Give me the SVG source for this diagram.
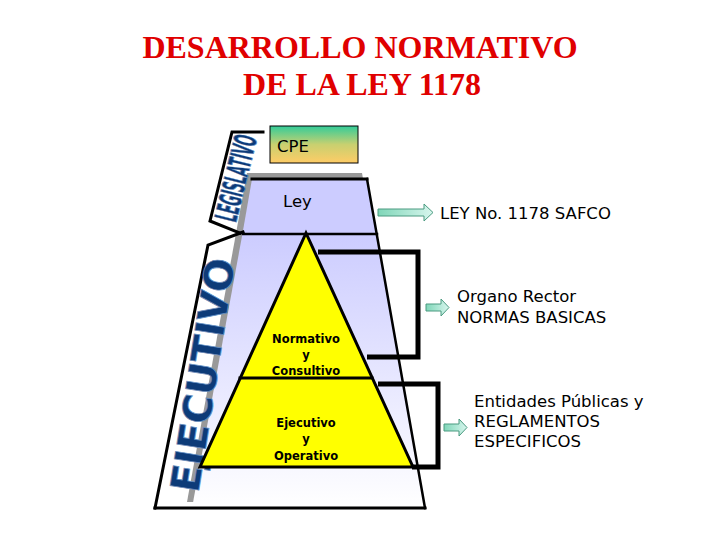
<svg xmlns="http://www.w3.org/2000/svg" width="720" height="540" viewBox="0 0 720 540">
<defs>
<linearGradient id="cpeGrad" x1="0" y1="0" x2="0" y2="1">
<stop offset="0" stop-color="#33cc99"/>
<stop offset="0.5" stop-color="#c8d070"/>
<stop offset="1" stop-color="#ffcc66"/>
</linearGradient>
<linearGradient id="lowGrad" x1="0" y1="0" x2="0" y2="1">
<stop offset="0" stop-color="#ccccff"/>
<stop offset="1" stop-color="#ffffff"/>
</linearGradient>
<linearGradient id="arrGrad" x1="0" y1="0" x2="1" y2="0">
<stop offset="0" stop-color="#7fd6b8"/>
<stop offset="1" stop-color="#d8f6ee"/>
</linearGradient>
<style>
.title{font-family:"Liberation Serif","Times New Roman",serif;font-size:32px;font-weight:bold;fill:#e00000;text-anchor:middle}
.lbl{font-family:"DejaVu Sans",sans-serif;font-size:16.5px;fill:#000}
.pyr{font-family:"DejaVu Sans",sans-serif;font-size:11.5px;font-weight:bold;fill:#000;text-anchor:middle}
.ln{stroke:#000;fill:none;stroke-linecap:square}
.brk{stroke:#000;stroke-width:5;fill:none;stroke-linejoin:miter}
.arr{fill:url(#arrGrad);stroke:#4a9a80;stroke-width:1}
.ban{font-family:"DejaVu Sans",sans-serif;font-weight:bold;fill:#0d3b78;stroke:#6a8fc0;stroke-width:0.8}
</style>
</defs>
<rect width="720" height="540" fill="#fff"/>

<g id="title">
<text class="title" x="360" y="58">DESARROLLO NORMATIVO</text>
<text class="title" x="362" y="95">DE LA LEY 1178</text>
</g>

<g id="frame">
<polygon points="247,173 362,173 420,502 187,502" fill="#999"/>
<polygon points="252,179 367,179 376.5,234 242.4,234" fill="#ccccff"/>
<polygon points="242.4,234 376.5,234 425,508 192,508" fill="url(#lowGrad)"/>
<line class="ln" x1="252" y1="179" x2="367" y2="179" stroke-width="3"/>
<line class="ln" x1="367" y1="179" x2="425" y2="508" stroke-width="2.5"/>
<line class="ln" x1="243" y1="234" x2="377" y2="234" stroke-width="2.5"/>
<line class="ln" x1="155" y1="508" x2="425" y2="508" stroke-width="3"/>
</g>

<g id="legislativo">
<polyline class="ln" points="263,132 232,132 210,221 240,233" stroke-width="3"/>
<text class="ban" transform="translate(236,178) rotate(-76)" x="0" y="11" font-size="31" text-anchor="middle" textLength="88" lengthAdjust="spacingAndGlyphs">LEGISLATIVO</text>
</g>

<g id="ejecutivo">
<polyline class="ln" points="243,232 208,245 155,508" stroke-width="3"/>
<text class="ban" transform="translate(203,375) rotate(-81)" x="0" y="14" font-size="40" text-anchor="middle" textLength="236" lengthAdjust="spacingAndGlyphs">EJECUTIVO</text>
</g>

<g id="cpe">
<rect x="270" y="126" width="88" height="37" fill="url(#cpeGrad)" stroke="#000" stroke-width="1"/>
<text class="lbl" x="277" y="152" font-size="20">CPE</text>
</g>

<g id="ley">
<text class="lbl" x="283" y="207">Ley</text>
</g>

<g id="pyramid">
<polygon points="306,233 413,467 200,467" fill="#ffff00" stroke="#000" stroke-width="3" stroke-linejoin="miter"/>
<line class="ln" x1="240" y1="378" x2="372" y2="378" stroke-width="3"/>
</g>

<g id="normativo">
<text class="pyr" x="306" y="343">Normativo</text>
<text class="pyr" x="306" y="359">y</text>
<text class="pyr" x="306" y="375">Consultivo</text>
</g>

<g id="operativo">
<text class="pyr" x="306" y="427">Ejecutivo</text>
<text class="pyr" x="306" y="443">y</text>
<text class="pyr" x="306" y="460">Operativo</text>
</g>

<g id="connectors">
<polyline class="brk" points="318,252 418,252 418,357 367,357"/>
<polyline class="brk" points="378,384 438,384 438,467 412,467"/>
<polygon class="arr" points="378,209 424,209 424,204 433,212.5 424,221 424,216 378,216"/>
<polygon class="arr" points="426,304 441,304 441,299 449,307.5 441,316 441,311 426,311"/>
<polygon class="arr" points="444,424 459,424 459,419 467,427.5 459,436 459,431 444,431"/>
</g>

<g id="safco">
<text class="lbl" x="440" y="219">LEY No. 1178 SAFCO</text>
</g>

<g id="rector">
<text class="lbl" x="457" y="302">Organo Rector</text>
<text class="lbl" x="457" y="323">NORMAS BASICAS</text>
</g>

<g id="entidades">
<text class="lbl" x="474" y="407">Entidades Públicas y</text>
<text class="lbl" x="474" y="427">REGLAMENTOS</text>
<text class="lbl" x="474" y="447">ESPECIFICOS</text>
</g>
</svg>
